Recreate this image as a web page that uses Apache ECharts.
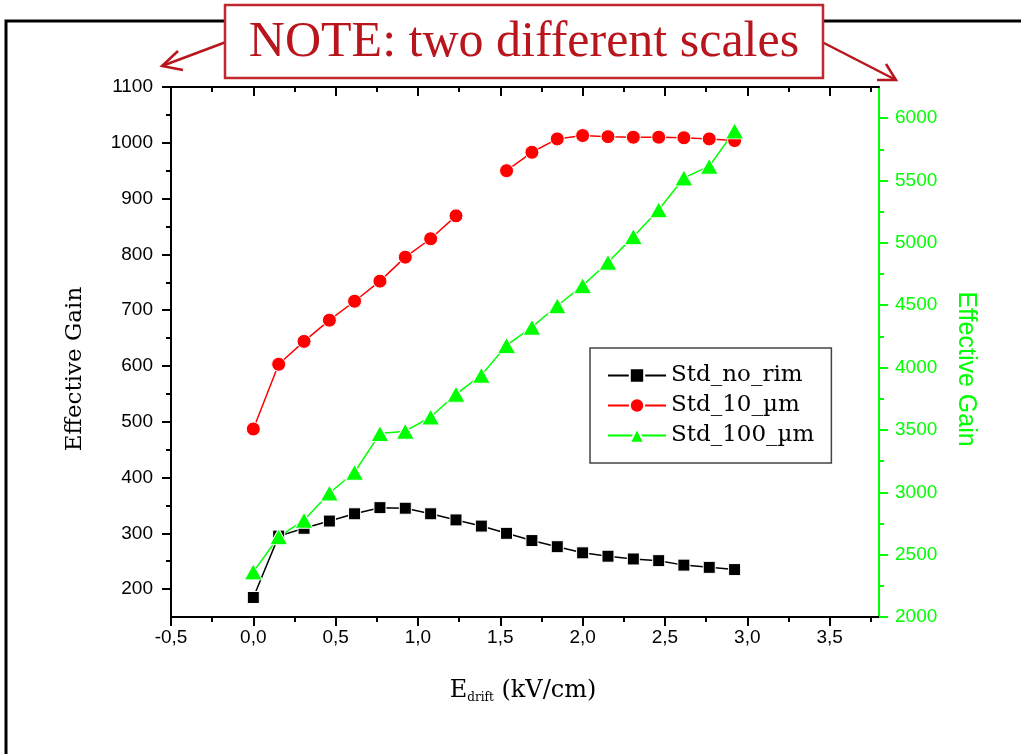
<!DOCTYPE html>
<html><head><meta charset="utf-8">
<script src="https://cdn.jsdelivr.net/npm/echarts@6/dist/echarts.min.js"></script>
<style>html,body{margin:0;padding:0;background:#fff}#c{width:1021px;height:754px}</style>
</head><body><div id="c"></div>
<script>
// ---- data ----
const xValues = [0, 0.154, 0.308, 0.462, 0.615, 0.769, 0.923, 1.077, 1.231, 1.385, 1.538, 1.692, 1.846, 2.0, 2.154, 2.308, 2.462, 2.615, 2.769, 2.923];
const stdNoRim = [185, 295, 309, 322, 335, 346, 345, 335, 324, 313, 300, 287, 276, 265, 259, 254, 251, 243, 239, 235];
const std10um = [487, 603, 644, 682, 716, 752, 795, 828, 869, null, 950, 983, 1007, 1013, 1011, 1010, 1010, 1009, 1007, 1004];
const std100um = [2362, 2643, 2776, 2994, 3161, 3471, 3490, 3604, 3787, 3939, 4178, 4324, 4496, 4657, 4845, 5050, 5266, 5521, 5615, 5898];
const seriesNames = ['Std_no_rim', 'Std_10_\u00b5m', 'Std_100_\u00b5m'];
const xTicks = [-0.5, 0, 0.5, 1, 1.5, 2, 2.5, 3, 3.5];
const xMinorTicks = [-0.25, 0.25, 0.75, 1.25, 1.75, 2.25, 2.75, 3.25, 3.75];
const leftTicks = [200, 300, 400, 500, 600, 700, 800, 900, 1000, 1100];
const leftMinorTicks = [250, 350, 450, 550, 650, 750, 850, 950, 1050];
const rightTicks = [2000, 2500, 3000, 3500, 4000, 4500, 5000, 5500, 6000];
const rightMinorTicks = [2250, 2750, 3250, 3750, 4250, 4750, 5250, 5750];
const noteText = 'NOTE: two different scales';
const yTitle = 'Effective Gain';

const pair = arr => xValues.map((x, i) => [x, arr[i]]);
const GREEN = '#00ff00';
const RED_NOTE = '#b8151d';
const sans = 'Liberation Sans';
const serif = 'DejaVu Serif';

function xAxisDef(pos, ticks, len, inside, showLine, showLabel) {
  return {
    type: 'value', position: pos, min: -0.5, max: 3.8, interval: 0.5,
    axisLine: { show: showLine, onZero: false, lineStyle: { color: '#000', width: 2 } },
    axisTick: { show: true, inside: inside, length: len, customValues: ticks, lineStyle: { color: '#000', width: 2 } },
    axisLabel: showLabel ? { show: true, customValues: xTicks, color: '#000', fontFamily: sans, fontSize: 19, margin: 11,
      formatter: v => Number(v).toFixed(1).replace('.', ',') } : { show: false },
    splitLine: { show: false }
  };
}
function yAxisDef(pos, min, max, interval, ticks, len, color, showLine, showLabel, labelTicks, margin) {
  return {
    type: 'value', position: pos, min: min, max: max, interval: interval,
    axisLine: { show: showLine, onZero: false, lineStyle: { color: color, width: 2 } },
    axisTick: { show: true, inside: false, length: len, customValues: ticks, lineStyle: { color: color, width: 2 } },
    axisLabel: showLabel ? { show: true, customValues: labelTicks, color: color, fontFamily: sans, fontSize: 19, margin: margin,
      formatter: v => String(Math.round(v)) } : { show: false },
    splitLine: { show: false }
  };
}

const chart = echarts.init(document.getElementById('c'), null, { renderer: 'canvas' });
chart.setOption({
  animation: false,
  backgroundColor: '#fff',
  grid: { left: 171, right: 142, top: 87, bottom: 137, containLabel: false, outerBoundsMode: 'none' },
  xAxis: [
    xAxisDef('bottom', xTicks, 9, false, true, true),
    xAxisDef('bottom', xMinorTicks, 5, false, false, false),
    xAxisDef('top', xTicks, 9, true, true, false),
    xAxisDef('top', xMinorTicks, 5, true, false, false)
  ],
  yAxis: [
    yAxisDef('left', 150, 1100, 50, leftTicks, 9, '#000', true, true, leftTicks, 18),
    yAxisDef('left', 150, 1100, 50, leftMinorTicks, 5, '#000', false, false),
    yAxisDef('right', 2000, 6250, 500, rightTicks, 9, GREEN, true, true, rightTicks, 16),
    yAxisDef('right', 2000, 6250, 500, rightMinorTicks, 5, GREEN, false, false)
  ],
  legend: {
    show: true, orient: 'vertical', left: 590, top: 348, selectedMode: false,
    data: seriesNames,
    backgroundColor: '#fff', borderColor: '#444', borderWidth: 1.5,
    padding: [16, 17, 16, 17], itemGap: 7, itemWidth: 58, itemHeight: 18,
    textStyle: { fontFamily: serif, fontSize: 23, lineHeight: 23, color: '#000' }
  },
  series: [
    { name: seriesNames[0], type: 'line', xAxisIndex: 0, yAxisIndex: 0, data: pair(stdNoRim),
      symbol: 'rect', symbolSize: 12, lineStyle: { color: '#000', width: 1.5 },
      itemStyle: { color: '#000', borderColor: '#fff', borderWidth: 1 } },
    { name: seriesNames[1], type: 'line', xAxisIndex: 0, yAxisIndex: 0, data: pair(std10um), connectNulls: false,
      symbol: 'circle', symbolSize: 14, lineStyle: { color: '#ff0000', width: 1.5 },
      itemStyle: { color: '#ff0000', borderColor: '#fff', borderWidth: 1 } },
    { name: seriesNames[2], type: 'line', xAxisIndex: 0, yAxisIndex: 2, data: pair(std100um),
      symbol: 'triangle', symbolSize: [18, 16], lineStyle: { color: GREEN, width: 1.5 },
      itemStyle: { color: GREEN, borderColor: '#fff', borderWidth: 1 } }
  ],
  graphic: [
    { type: 'polyline', z: 1, shape: { points: [[6, 760], [6, 21], [1030, 21]] }, style: { stroke: '#000', lineWidth: 3, fill: null } },
    // arrows
    { type: 'polyline', z: 5, shape: { points: [[226, 42], [162, 66]] }, style: { stroke: RED_NOTE, lineWidth: 2.5, fill: null } },
    { type: 'polyline', z: 5, shape: { points: [[178, 51], [162, 66], [183, 70]] }, style: { stroke: RED_NOTE, lineWidth: 2.5, fill: null } },
    { type: 'polyline', z: 5, shape: { points: [[822, 42], [896, 80]] }, style: { stroke: RED_NOTE, lineWidth: 2.5, fill: null } },
    { type: 'polyline', z: 5, shape: { points: [[886, 64], [896, 80], [877, 80]] }, style: { stroke: RED_NOTE, lineWidth: 2.5, fill: null } },
    // note box
    { type: 'rect', z: 6, shape: { x: 225, y: 5, width: 598, height: 73 }, style: { fill: '#fff', stroke: '#c0282d', lineWidth: 2.5 } },
    { type: 'text', z: 7, x: 524, y: 43, style: { text: noteText, fontFamily: 'Liberation Serif', fontSize: 50, fill: RED_NOTE,
        align: 'center', verticalAlign: 'middle', textAlign: 'center', textVerticalAlign: 'middle' } },
    // axis titles
    { type: 'text', z: 7, x: 75, y: 369, rotation: Math.PI / 2, style: { text: yTitle, fontFamily: serif, fontSize: 23, fill: '#000',
        align: 'center', verticalAlign: 'middle', textAlign: 'center', textVerticalAlign: 'middle' } },
    { type: 'text', z: 7, x: 966, y: 369, rotation: -Math.PI / 2, style: { text: yTitle, fontFamily: sans, fontSize: 25, fill: GREEN,
        align: 'center', verticalAlign: 'middle', textAlign: 'center', textVerticalAlign: 'middle' } },
    { type: 'text', z: 7, x: 523, y: 691, style: { text: '{a|E}{b|drift}{a| (kV/cm)}', align: 'center', verticalAlign: 'middle',
        textAlign: 'center', textVerticalAlign: 'middle', fill: '#000',
        rich: { a: { fontFamily: serif, fontSize: 24, lineHeight: 25, verticalAlign: 'top', padding: [0, 0, 5, 0], fill: '#000', color: '#000' },
                b: { fontFamily: serif, fontSize: 12, lineHeight: 14, verticalAlign: 'bottom', fill: '#000', color: '#000' } } } }
  ]
});
</script>
</body></html>
